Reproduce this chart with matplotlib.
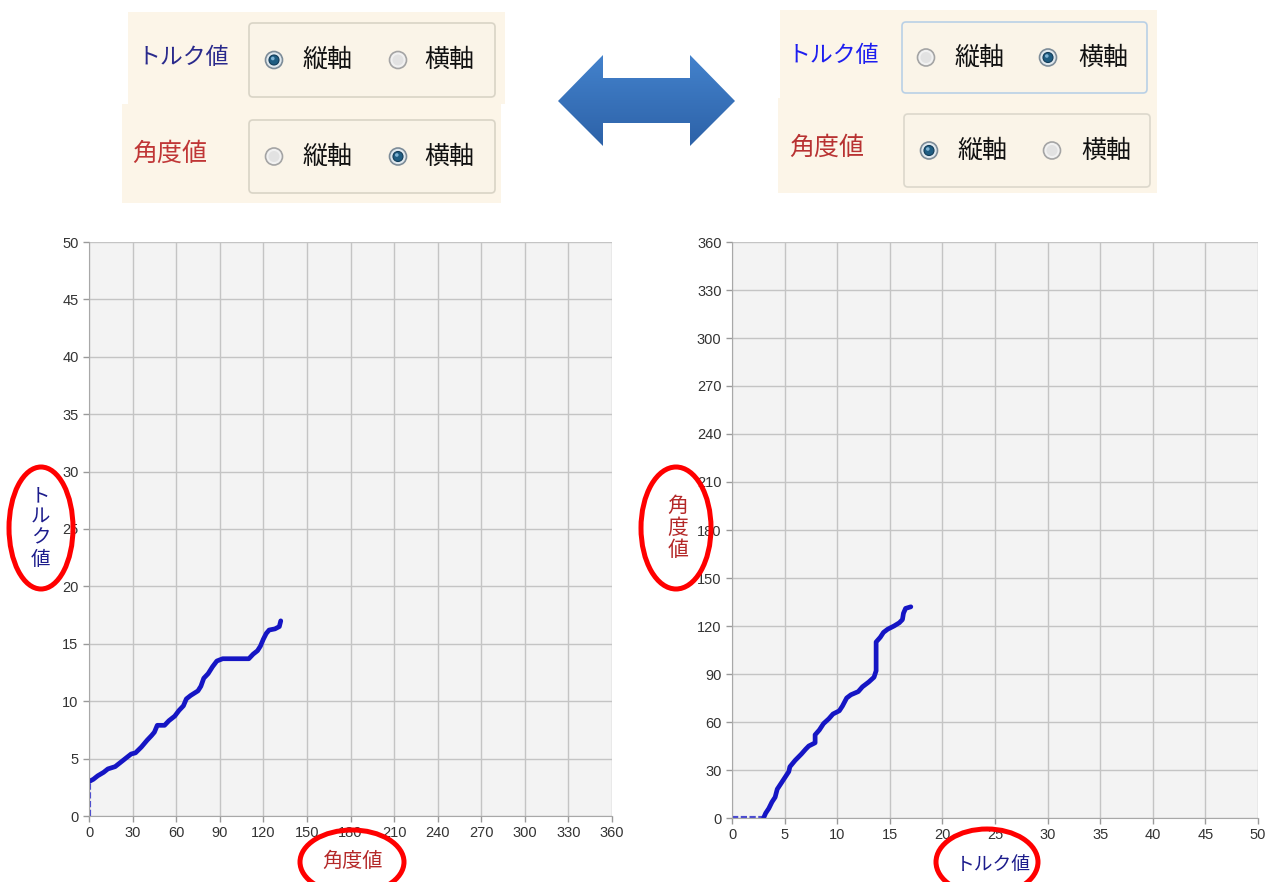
import numpy as np
import matplotlib.pyplot as plt
from matplotlib.patches import Ellipse, FancyBboxPatch, Circle, Polygon, Rectangle

plt.rcParams['font.family'] = ['Liberation Sans', 'Noto Sans CJK JP', 'DejaVu Sans']
JP = ['Noto Sans CJK JP', 'DejaVu Sans']

angle = [0, 0, 3, 6, 10, 13, 18, 22, 26, 29, 32, 36, 40, 43, 45, 47, 52, 55, 59, 62,
         65, 67, 70, 75, 77, 79, 82, 85, 88, 92, 100, 110, 113, 116, 118, 120, 122,
         124, 128, 131, 132]
torque = [0, 3.0, 3.2, 3.5, 3.8, 4.1, 4.3, 4.7, 5.1, 5.4, 5.5, 6.0, 6.6, 7.0, 7.3,
          7.9, 7.9, 8.3, 8.7, 9.2, 9.6, 10.2, 10.5, 10.9, 11.3, 12.0, 12.4, 13.0,
          13.5, 13.7, 13.7, 13.7, 14.1, 14.4, 14.8, 15.4, 15.9, 16.2, 16.3, 16.5, 17.0]

angle_ticks = list(range(0, 361, 30))
torque_ticks = list(range(0, 51, 5))

torque_label = 'トルク値'
angle_label = '角度値'
radio_labels = ['縦軸', '横軸']

fig = plt.figure(figsize=(12.69, 8.82), dpi=100)
W, H = 1269, 882

line_col = '#1515c4'
grid_col = '#c4c4c4'


def style_chart(ax):
    ax.set_facecolor('#f3f3f3')
    ax.grid(True, color=grid_col, linewidth=1.0)
    ax.set_axisbelow(True)
    for s in ['top', 'right']:
        ax.spines[s].set_visible(False)
    for s in ['left', 'bottom']:
        ax.spines[s].set_color('#a8a8a8')
    ax.tick_params(colors='#9a9a9a', labelcolor='#333333', labelsize=10.5, length=4, width=1)


# left chart: torque (vertical) vs angle (horizontal)
ax1 = fig.add_axes([89 / W, 1 - 816 / H, 523 / W, 574 / H])
style_chart(ax1)
ax1.plot(angle[:2], torque[:2], color='#4a4ad0', lw=3, ls=(0, (1.5, 0.6)))
ax1.plot(angle[1:], torque[1:], color=line_col, lw=3.4, solid_capstyle='round', solid_joinstyle='round')
ax1.set_xlim(0, 360)
ax1.set_ylim(0, 50)
ax1.set_xticks(angle_ticks)
ax1.set_yticks(torque_ticks)
ax1.set_xlabel(angle_label, family=JP, fontsize=14.5, color='#b42828', va='center')
ax1.xaxis.set_label_coords(0.503, -0.080)
ax1.set_ylabel('\n'.join(torque_label), family=JP, fontsize=14, color='#1c1c8c',
               rotation=0, ha='center', va='center', linespacing=1.0)
ax1.yaxis.set_label_coords(-0.092, 0.502)

# right chart: angle (vertical) vs torque (horizontal)
ax2 = fig.add_axes([732 / W, 1 - 818 / H, 526 / W, 576 / H])
style_chart(ax2)
ax2.plot(torque[:2], angle[:2], color='#4a4ad0', lw=3, ls=(0, (1.5, 0.6)))
ax2.plot(torque[1:], angle[1:], color=line_col, lw=3.4, solid_capstyle='round', solid_joinstyle='round')
ax2.set_xlim(0, 50)
ax2.set_ylim(0, 360)
ax2.set_xticks(torque_ticks)
ax2.set_yticks(angle_ticks)
ax2.set_xlabel(torque_label, family=JP, fontsize=13.5, color='#1c1c8c', va='center')
ax2.xaxis.set_label_coords(0.496, -0.080)
ax2.set_ylabel('\n'.join(angle_label), family=JP, fontsize=15, color='#b42828',
               rotation=0, ha='center', va='center', linespacing=1.0)
ax2.yaxis.set_label_coords(-0.103, 0.503)

# overlay in pixel coordinates for the UI panels, arrow and red marks
ov = fig.add_axes([0, 0, 1, 1], zorder=10)
ov.patch.set_alpha(0)
ov.axis('off')


def radio(x, y, checked):
    if checked:
        ov.add_patch(Circle((x, y), 8.5, facecolor='#dfe8ee', edgecolor='#7d8c98', lw=1.2))
        ov.add_patch(Circle((x, y), 5, facecolor='#1f5d82', edgecolor='#123c58', lw=0.8))
        ov.add_patch(Circle((x - 1.2, y - 1.5), 1.8, facecolor='#7fb3d4', edgecolor='none'))
    else:
        ov.add_patch(Circle((x, y), 8.5, facecolor='#f1f1f1', edgecolor='#a4a4a4', lw=1.2))
        ov.add_patch(Circle((x, y), 5.5, facecolor='#e2e2e2', edgecolor='none'))


def panel_row(bg, box, box_edge, label, label_xy, label_col, label_size, radios):
    ov.add_patch(Rectangle((bg[0], bg[1]), bg[2] - bg[0], bg[3] - bg[1],
                           facecolor='#fcf5e8', edgecolor='none'))
    ov.add_patch(FancyBboxPatch((box[0], box[1]), box[2] - box[0], box[3] - box[1],
                                boxstyle='round,pad=0,rounding_size=4',
                                facecolor='#faf4e8', edgecolor=box_edge, lw=1.2))
    ov.text(label_xy[0], label_xy[1], label, family=JP, fontsize=label_size,
            color=label_col, ha='center', va='center')
    yc = (box[1] + box[3]) / 2
    for (rx, tx, chk), txt in zip(radios, radio_labels):
        radio(rx, yc, chk)
        ov.text(tx, yc, txt, family=JP, fontsize=18,
                color='#111111', ha='center', va='center')


# left UI
panel_row((128, 12, 505, 104), (249, 23, 495, 97), '#d9d4c6', torque_label, (183, 58),
          '#2a2a8c', 16.5, [(274, 328, True), (398, 449, False)])
panel_row((122, 104, 501, 203), (249, 120, 495, 193), '#d9d4c6', angle_label, (170, 154),
          '#c03636', 18, [(274, 328, False), (398, 449, True)])
# right UI
panel_row((780, 10, 1157, 98), (902, 22, 1147, 93), '#b9d0e6', torque_label, (833, 56),
          '#1e1ef0', 16.5, [(926, 980, False), (1048, 1103, True)])
panel_row((778, 98, 1157, 193), (904, 114, 1150, 187), '#dcd8cc', angle_label, (827, 148),
          '#b83232', 18, [(929, 983, True), (1052, 1106, False)])

# double-headed arrow with a vertical gradient
arrow_pts = [(558, 101), (603, 55), (603, 78), (690, 78), (690, 55), (735, 101),
             (690, 146), (690, 123), (603, 123), (603, 146)]
arrow = Polygon(arrow_pts, closed=True, facecolor='none', edgecolor='none')
ov.add_patch(arrow)
grad = np.linspace(0, 1, 64).reshape(-1, 1)
im = ov.imshow(grad, extent=(558, 735, 146, 55), cmap=plt.matplotlib.colors.LinearSegmentedColormap.from_list(
    'arr', ['#4382cc', '#2d62a8']), aspect='auto', origin='upper', zorder=2)
im.set_clip_path(arrow)

# red ellipses around the axis titles
for cx, cy, ew, eh in [(41, 528, 64, 122), (352, 862, 104, 64), (676, 528, 70, 122), (987, 862, 102, 66)]:
    ov.add_patch(Ellipse((cx, cy), ew, eh, facecolor='none', edgecolor='#ff0000', lw=3.6))

ov.set_xlim(0, W)
ov.set_ylim(H, 0)

fig.savefig('out.png', dpi=100)
